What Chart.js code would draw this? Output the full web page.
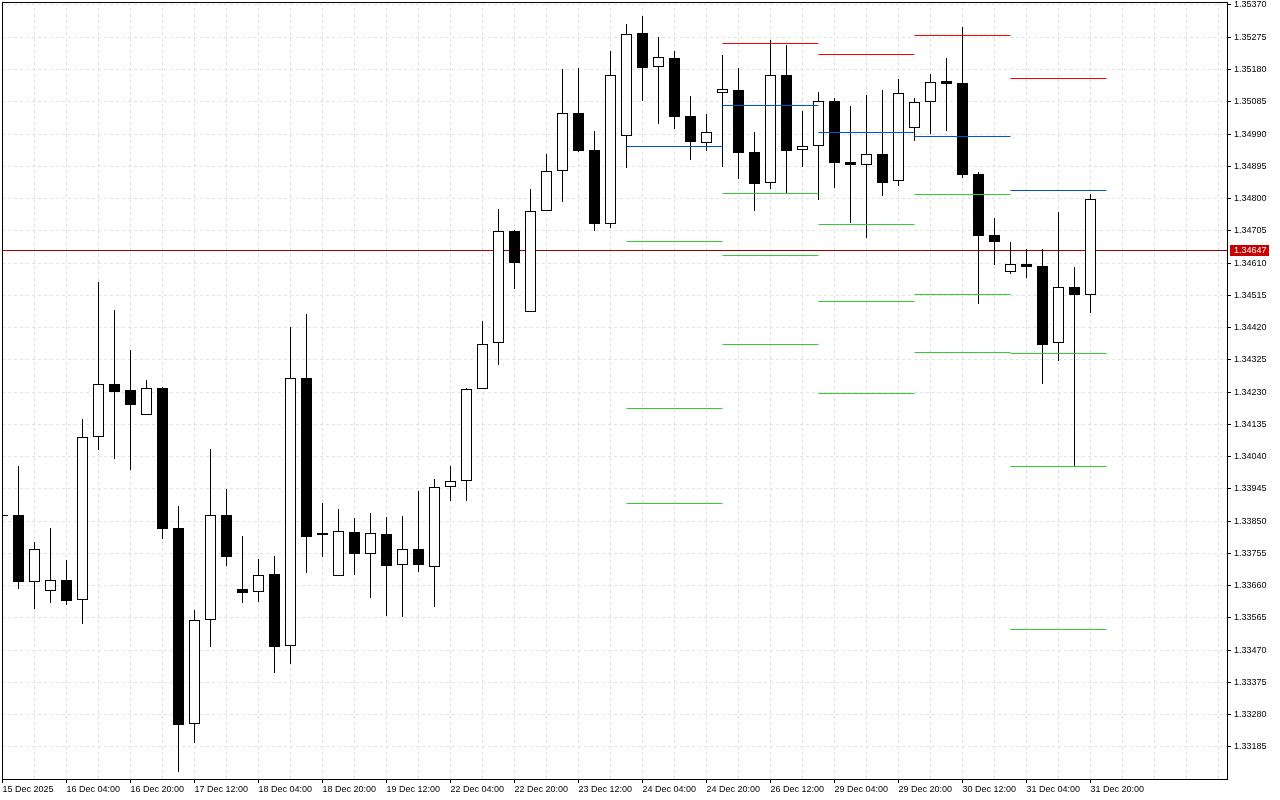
<!DOCTYPE html>
<html>
<head>
<meta charset="utf-8">
<script src="https://cdn.jsdelivr.net/npm/chart.js@4.4.1/dist/chart.umd.min.js"></script>
<style>
  html, body { margin: 0; padding: 0; background: #fff; }
  #wrap { width: 1280px; height: 800px; }
</style>
</head>
<body>
<div id="wrap"><canvas id="myCanvas"></canvas></div>
<script>
// time labels, one every 4 candles (H4)
const timeLabels = ["15 Dec 2025","16 Dec 04:00","16 Dec 20:00","17 Dec 12:00","18 Dec 04:00","18 Dec 20:00",
  "19 Dec 12:00","22 Dec 04:00","22 Dec 20:00","23 Dec 12:00","24 Dec 04:00","24 Dec 20:00",
  "26 Dec 12:00","29 Dec 04:00","29 Dec 20:00","30 Dec 12:00","31 Dec 04:00","31 Dec 20:00"];

const opens = [1.33868,1.33868,1.33672,1.33644,1.33676,1.33617,1.34097,1.34253,1.34235,1.34162,
  1.34241,1.33830,1.33253,1.33558,1.33867,1.33649,1.33641,1.33694,1.33482,1.34271,
  1.33808,1.33688,1.33817,1.33752,1.33811,1.33720,1.33767,1.33715,1.33952,1.33967,
  1.34238,1.34374,1.34703,1.34465,1.34762,1.34880,1.35051,1.34942,1.34726,1.34983,
  1.35287,1.35187,1.35213,1.35042,1.34963,1.35110,1.35120,1.34936,1.34845,1.35163,
  1.34942,1.34954,1.35086,1.34908,1.34898,1.34930,1.34851,1.35007,1.35083,1.35146,
  1.35140,1.34872,1.34693,1.34583,1.34607,1.34601,1.34374,1.34540,1.34515];
const highs = [1.33869,1.34012,1.33788,1.33831,1.33736,1.34151,1.34554,1.34472,1.34354,1.34266,
  1.34246,1.33895,1.33589,1.34063,1.33945,1.33806,1.33739,1.33748,1.34422,1.34461,
  1.33904,1.33886,1.33859,1.33874,1.33862,1.33865,1.33939,1.33975,1.34012,1.34242,
  1.34439,1.34770,1.34706,1.34828,1.34932,1.35182,1.35184,1.34999,1.35235,1.35314,
  1.35338,1.35276,1.35235,1.35102,1.35049,1.35223,1.35184,1.34996,1.35267,1.35252,
  1.35058,1.35114,1.35095,1.35073,1.35105,1.35120,1.35152,1.35096,1.35168,1.35214,
  1.35305,1.34877,1.34743,1.34672,1.34651,1.34651,1.34760,1.34598,1.34813];
const lows = [1.33863,1.33651,1.33591,1.33610,1.33603,1.33548,1.34060,1.34034,1.34002,1.34162,
  1.33798,1.33111,1.33198,1.33480,1.33719,1.33610,1.33613,1.33404,1.33430,1.33698,
  1.33745,1.33688,1.33692,1.33625,1.33570,1.33568,1.33701,1.33597,1.33910,1.33910,
  1.34238,1.34311,1.34535,1.34465,1.34762,1.34791,1.34938,1.34705,1.34714,1.34891,
  1.35088,1.35020,1.35006,1.34914,1.34941,1.34894,1.34859,1.34764,1.34829,1.34813,
  1.34894,1.34797,1.34831,1.34729,1.34685,1.34808,1.34838,1.34970,1.34990,1.34999,
  1.34861,1.34490,1.34605,1.34578,1.34567,1.34255,1.34323,1.34012,1.34464];
const closes = [1.33864,1.33672,1.33767,1.33676,1.33616,1.34097,1.34253,1.34231,1.34193,1.34241,
  1.33828,1.33251,1.33558,1.33867,1.33745,1.33639,1.33691,1.33480,1.34271,1.33804,
  1.33816,1.33820,1.33754,1.33814,1.33717,1.33767,1.33720,1.33952,1.33967,1.34238,
  1.34371,1.34703,1.34609,1.34762,1.34880,1.35051,1.34941,1.34726,1.35163,1.35284,
  1.35185,1.35216,1.35041,1.34967,1.34995,1.35122,1.34935,1.34844,1.35163,1.34941,
  1.34954,1.35086,1.34906,1.34898,1.34930,1.34847,1.35110,1.35083,1.35142,1.35138,
  1.34870,1.34691,1.34673,1.34606,1.34599,1.34370,1.34539,1.34515,1.34798];

// daily pivot levels (start candle of each day)
const pivotStart = [39, 45, 51, 57, 63];
const pivotR  = [null, 1.35257, 1.35225, 1.35281, 1.35154];
const pivotPP = [1.34954, 1.35075, 1.34995, 1.34983, 1.34824];
const pivotS1 = [1.34674, 1.34816, 1.34724, 1.34813, 1.34344];
const pivotS2 = [1.34182, 1.34633, 1.34496, 1.34518, 1.34012];
const pivotS3 = [1.33903, 1.34371, 1.34227, 1.34347, 1.33532];

const priceTicks = [1.33185,1.33280,1.33375,1.33470,1.33565,1.33660,1.33755,1.33850,1.33945,1.34040,
  1.34135,1.34230,1.34325,1.34420,1.34515,1.34610,1.34705,1.34800,1.34895,1.34990,
  1.35085,1.35180,1.35275,1.35370];
const lastPrice = 1.34647;

const xMin = -0.03125, xMax = 76.53125;
const yMax = 1.353788, yMin = 1.330907;
const labelFont = {family: 'Liberation Sans', size: 9};

const wicks = {
  type: 'bar', order: 3, grouped: false, clip: 0,
  data: lows.map((l, i) => ({x: i, y: [l, highs[i]]})),
  backgroundColor: '#000', borderWidth: 0, barThickness: 1, inflateAmount: 0
};
const bodies = {
  type: 'bar', order: 2, grouped: false, clip: 0,
  data: opens.map((o, i) => ({x: i, y: [o, closes[i]]})),
  backgroundColor: opens.map((o, i) => closes[i] > o ? '#fff' : '#000'),
  borderColor: '#000', borderWidth: 1, borderSkipped: false, barThickness: 11, inflateAmount: 0
};
const priceLine = {
  type: 'line', order: 4, data: [{x: xMin, y: lastPrice}, {x: xMax, y: lastPrice}],
  borderColor: '#9a0000', borderWidth: 1, pointRadius: 0, fill: false
};

const pivotSets = [];
function addLevels(levels, color) {
  levels.forEach((v, d) => {
    if (v == null) return;
    pivotSets.push({
      type: 'line', order: 1,
      data: [{x: pivotStart[d], y: v}, {x: pivotStart[d] + 6, y: v}],
      borderColor: color, borderWidth: 1, pointRadius: 0, fill: false
    });
  });
}
addLevels(pivotR, '#ff0000');
addLevels(pivotPP, '#0050dc');
addLevels(pivotS1, '#33cc33');
addLevels(pivotS2, '#33cc33');
addLevels(pivotS3, '#33cc33');

// snap drawn marks to whole pixels, like the terminal does
const pixelSnap = {
  id: 'pixelSnap',
  beforeDatasetsDraw(chart) {
    chart.data.datasets.forEach((ds, i) => {
      const meta = chart.getDatasetMeta(i);
      meta.data.forEach(el => {
        if (ds.type === 'bar') {
          el.y = Math.round(el.y);
          el.base = Math.round(el.base);
        } else {
          el.y = Math.floor(el.y) + 0.5;
        }
      });
    });
  }
};

const frameAndLabel = {
  id: 'frameAndLabel',
  afterDraw(chart) {
    const {ctx, chartArea: a, scales: {y}} = chart;
    ctx.save();
    ctx.strokeStyle = '#000';
    ctx.lineWidth = 1;
    ctx.strokeRect(a.left + 0.5, a.top + 0.5, a.right - a.left, a.bottom - a.top);
    const py = Math.floor(y.getPixelForValue(lastPrice));
    ctx.fillStyle = '#c80000';
    ctx.fillRect(a.right + 3, py - 5, 39, 11);
    ctx.fillStyle = '#fff';
    ctx.font = '9px "Liberation Sans"';
    ctx.textBaseline = 'middle';
    ctx.fillText(lastPrice.toFixed(5), a.right + 7, py + 1);
    ctx.restore();
  }
};

new Chart(document.getElementById('myCanvas'), {
  type: 'bar',
  data: {datasets: [wicks, bodies, priceLine, ...pivotSets]},
  options: {
    responsive: true,
    maintainAspectRatio: false,
    animation: false,
    layout: {padding: {left: 2, top: 2, right: 0, bottom: 0}, autoPadding: false},
    plugins: {legend: {display: false}, tooltip: {enabled: false}},
    scales: {
      x: {
        type: 'linear', min: xMin, max: xMax, offset: false,
        afterBuildTicks: s => {
          s.ticks = [];
          for (let v = 0; v <= 76; v += 2) s.ticks.push({value: v});
        },
        afterFit: s => { s.height = 21; s.paddingLeft = 0; s.paddingRight = 0; },
        grid: {
          color: '#e2e2e2', offset: false, tickLength: 4, tickWidth: 1,
          tickColor: c => (c.tick && c.tick.value % 4 === 0 && timeLabels[c.tick.value / 4]) ? '#000' : 'rgba(0,0,0,0)'
        },
        border: {display: false, dash: [3, 3]},
        ticks: {
          autoSkip: false, maxRotation: 0, minRotation: 0, align: 'start', padding: 1,
          color: '#000', font: labelFont,
          callback: v => (v % 4 === 0 && timeLabels[v / 4]) ? timeLabels[v / 4] : ''
        }
      },
      y: {
        type: 'linear', position: 'right', min: yMin, max: yMax,
        afterBuildTicks: s => { s.ticks = priceTicks.map(v => ({value: v})); },
        afterFit: s => { s.width = 53; s.paddingTop = 0; s.paddingBottom = 0; },
        grid: {color: '#e2e2e2', tickLength: 4, tickWidth: 1, tickColor: '#000'},
        border: {display: false, dash: [3, 3]},
        ticks: {autoSkip: false, padding: 3, color: '#000', font: labelFont, callback: v => v.toFixed(5)}
      }
    }
  },
  plugins: [pixelSnap, frameAndLabel]
});
</script>
</body>
</html>
